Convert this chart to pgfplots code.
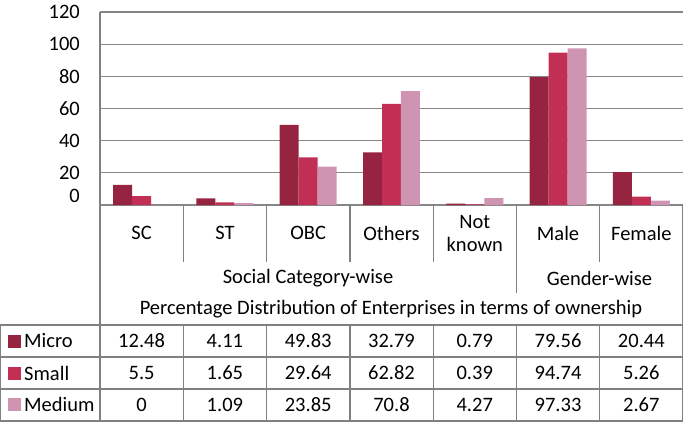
\documentclass[border=0pt]{standalone}
\usepackage{fontspec}
\setmainfont{Carlito}
\usepackage{pgfplots}
\pgfplotsset{compat=1.18}
\usepackage{pgfplotstable}

\definecolor{cmicro}{RGB}{150,36,64}
\definecolor{csmall}{RGB}{193,48,84}
\definecolor{cmedium}{RGB}{206,148,178}
\definecolor{cgrid}{RGB}{134,134,134}
\definecolor{cline}{RGB}{128,128,128}

\pgfplotstableread{
x micro small medium
0 12.48 5.5 0
1 4.11 1.65 1.09
2 49.83 29.64 23.85
3 32.79 62.82 70.8
4 0.79 0.39 4.27
5 79.56 94.74 97.33
6 20.44 5.26 2.67
}\data

\begin{document}%
\fontsize{20.5}{23}\selectfont%
\begin{tikzpicture}[font=\fontsize{20.5}{23}\selectfont]
\begin{axis}[
  at={(100pt,-205pt)}, anchor=south west,
  scale only axis, width=583pt, height=193pt,
  xmin=-0.5, xmax=6.5, ymin=0, ymax=120,
  ytick={20,40,...,120},
  extra y ticks={0},
  extra y tick style={yticklabel style={yshift=9pt}},
  ymajorgrids,
  grid style={cgrid, line width=1.3pt},
  axis line style={draw=none},
  tick style={draw=none},
  xtick={0,...,6},
  xticklabels={SC,ST,OBC,Others,{Not\\known},Male,Female},
  xticklabel style={anchor=center, yshift=-28pt, align=center, inner sep=0pt, font=\fontsize{20.5}{23}\selectfont},
  yticklabel style={anchor=east, inner sep=0pt, xshift=-20pt, font=\fontsize{20.5}{23}\selectfont},
  /pgf/number format/assume math mode=true,
  clip=false,
]
\addplot[ybar, bar width=0.228, bar shift=-0.228, fill=cmicro, draw=none] table[x=x,y=micro]{\data};
\addplot[ybar, bar width=0.228, bar shift=0, fill=csmall, draw=none] table[x=x,y=small]{\data};
\addplot[ybar, bar width=0.228, bar shift=0.228, fill=cmedium, draw=none] table[x=x,y=medium]{\data};
\end{axis}

\begin{scope}[cline, line width=1.3pt]
  \draw (100pt,-11.7pt) -- (100pt,-421pt);
  \draw (682.5pt,-205pt) -- (682.5pt,-421pt);
  \foreach \k in {1,...,6} \draw ({100pt+83.29pt*\k},-205pt) -- ({100pt+83.29pt*\k},-262pt);
  \draw (516.4pt,-262pt) -- (516.4pt,-293pt);
  \foreach \yy in {325,357,389,421} \draw (0pt,-\yy pt) -- (682.5pt,-\yy pt);
  \draw (0.65pt,-325pt) -- (0.65pt,-421pt);
  \foreach \k in {1,...,6} \draw ({100pt+83.29pt*\k},-325pt) -- ({100pt+83.29pt*\k},-421pt);
\end{scope}

\node[text=black] at (308pt,-278pt) {Social Category-wise};
\node[text=black] at (599.5pt,-278pt) {Gender-wise};
\node[text=black] at (391pt,-309pt) {Percentage Distribution of Enterprises in terms of ownership};

\fill[cmicro]  (8pt,-335pt) rectangle (21pt,-348pt);
\fill[csmall]  (8pt,-367pt) rectangle (21pt,-380pt);
\fill[cmedium] (8pt,-398pt) rectangle (21pt,-411pt);
\node[anchor=west, inner sep=0pt] at (24pt,-341pt) {Micro};
\node[anchor=west, inner sep=0pt] at (24pt,-373pt) {Small};
\node[anchor=west, inner sep=0pt] at (24pt,-404.5pt) {Medium};

\foreach \r in {0,...,6} {
  \pgfplotstablegetelem{\r}{micro}\of\data
  \node at ({141.6pt+83.29pt*\r},-341pt) {\pgfplotsretval};
  \pgfplotstablegetelem{\r}{small}\of\data
  \node at ({141.6pt+83.29pt*\r},-373pt) {\pgfplotsretval};
  \pgfplotstablegetelem{\r}{medium}\of\data
  \node at ({141.6pt+83.29pt*\r},-404.5pt) {\pgfplotsretval};
}

\pgfresetboundingbox
\path (0pt,0pt) rectangle (685pt,-422pt);
\end{tikzpicture}%
\end{document}
